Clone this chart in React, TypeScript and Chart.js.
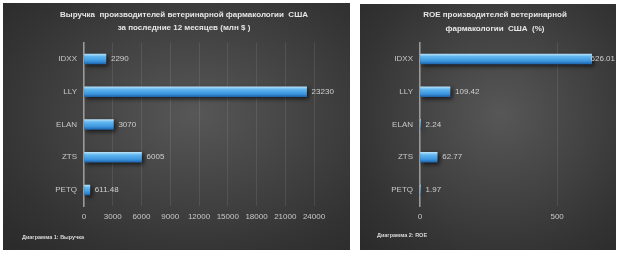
import React, { useEffect, useRef } from "react";
import { Chart, registerables } from "chart.js";

Chart.register(...registerables);

const categories = ["IDXX", "LLY", "ELAN", "ZTS", "PETQ"];
const revenueValues = [2290, 23230, 3070, 6005, 611.48];
const revenueLabels = ["2290", "23230", "3070", "6005", "611.48"];
const revenueTicks = [0, 3000, 6000, 9000, 12000, 15000, 18000, 21000, 24000];
const roeValues = [626.01, 109.42, 2.24, 62.77, 1.97];
const roeLabels = ["626.01", "109.42", "2.24", "62.77", "1.97"];
const roeTicks = [0, 500];

const revenueTitle = ["Выручка  производителей ветеринарной фармакологии  США", "за последние 12 месяцев (млн $ )"];
const roeTitle = ["ROE производителей ветеринарной", "фармакологии  США  (%)"];
const revenueFooter = "Диаграмма 1: Выручка";
const roeFooter = "Диаграмма 2: ROE";

const FONT = "'Liberation Sans', Arial, sans-serif";

type PanelCfg = {
  values: number[];
  labels: string[];
  ticks: number[];
  title: string[];
  footer: string;
  width: number;
  height: number;
  axisLeft: number;
  areaTop: number;
  areaBottom: number;
  rightPad: number;
  xMax: number;
  titleX: number;
  titleY: number[];
  footerX: number;
  footerY: number;
};

function barGradient(ctx: any) {
  const chart = ctx.chart;
  const ys = chart.scales?.y;
  const c = chart.ctx;
  if (!ys || !chart.chartArea) return "#4aa8ea";
  const yc = ys.getPixelForValue(ctx.dataIndex);
  const g = c.createLinearGradient(0, yc - 5, 0, yc + 5);
  g.addColorStop(0, "#b8e2fa");
  g.addColorStop(0.25, "#62b7ef");
  g.addColorStop(0.7, "#3d97df");
  g.addColorStop(1, "#1f66ad");
  return g;
}

function Panel({ cfg }: { cfg: PanelCfg }) {
  const ref = useRef<HTMLCanvasElement | null>(null);
  useEffect(() => {
    if (!ref.current) return;
    const deco = {
      id: "deco",
      beforeDatasetsDraw(chart: any) {
        const c = chart.ctx;
        c.save();
        c.shadowColor = "rgba(0,0,0,0.65)";
        c.shadowBlur = 4;
        c.shadowOffsetX = 2;
        c.shadowOffsetY = 2;
      },
      afterDatasetsDraw(chart: any) {
        const c = chart.ctx;
        c.restore();
        const meta = chart.getDatasetMeta(0);
        c.save();
        c.fillStyle = "#d0d0d0";
        c.font = "8px " + FONT;
        c.textBaseline = "middle";
        c.textAlign = "left";
        meta.data.forEach((el: any, i: number) => {
          const w = c.measureText(cfg.labels[i]).width;
          const x = Math.min(el.x + 5, chart.width - w - 1);
          c.fillText(cfg.labels[i], x, el.y);
        });
        c.restore();
      },
      afterDraw(chart: any) {
        const c = chart.ctx;
        c.save();
        c.fillStyle = "#e6e6e6";
        c.font = "bold 8px " + FONT;
        c.textAlign = "center";
        c.textBaseline = "middle";
        cfg.title.forEach((t, i) => c.fillText(t, cfg.titleX, cfg.titleY[i]));
        c.font = "bold 5.5px " + FONT;
        c.fillStyle = "#d8d8d8";
        c.textAlign = "left";
        c.fillText(cfg.footer, cfg.footerX, cfg.footerY);
        c.restore();
      },
    };
    const chart = new Chart(ref.current, {
      type: "bar",
      data: {
        labels: categories,
        datasets: [
          {
            data: cfg.values,
            backgroundColor: barGradient as any,
            borderWidth: 0,
            barThickness: 10,
          },
        ],
      },
      options: {
        indexAxis: "y",
        animation: false,
        responsive: false,
        maintainAspectRatio: false,
        layout: {
          padding: {
            top: cfg.areaTop,
            right: cfg.rightPad,
            left: 0,
            bottom: 0,
          },
        },
        plugins: {
          legend: { display: false },
          tooltip: { enabled: false },
          title: { display: false },
        },
        scales: {
          x: {
            min: 0,
            max: cfg.xMax,
            ticks: {
              color: "#c8c8c8",
              font: { size: 8, family: FONT },
              padding: 6,
              maxRotation: 0,
              autoSkip: false,
              callback: (v: any) => String(v),
            },
            afterBuildTicks: (axis: any) => {
              axis.ticks = cfg.ticks.map((v) => ({ value: v }));
            },
            afterFit: (scale: any) => {
              scale.height = cfg.height - cfg.areaBottom;
            },
            grid: {
              color: "rgba(255,255,255,0.09)",
              drawTicks: false,
            },
            border: { display: false },
          },
          y: {
            ticks: {
              color: "#c8c8c8",
              font: { size: 8, family: FONT },
              padding: 7,
            },
            afterFit: (scale: any) => {
              scale.width = cfg.axisLeft;
            },
            grid: { display: false, drawTicks: false },
            border: { display: true, color: "#9a9a9a", width: 1.5 },
          },
        },
      },
      plugins: [deco],
    });
    return () => chart.destroy();
  }, [cfg]);
  return <canvas ref={ref} width={cfg.width} height={cfg.height} style={{ display: "block" }} />;
}

const leftCfg: PanelCfg = {
  values: revenueValues,
  labels: revenueLabels,
  ticks: revenueTicks,
  title: revenueTitle,
  footer: revenueFooter,
  width: 347,
  height: 247,
  axisLeft: 81,
  areaTop: 39.6,
  areaBottom: 203.4,
  rightPad: 36,
  xMax: 24000,
  titleX: 181,
  titleY: [12, 25],
  footerX: 19,
  footerY: 234,
};

const rightCfg: PanelCfg = {
  values: roeValues,
  labels: roeLabels,
  ticks: roeTicks,
  title: roeTitle,
  footer: roeFooter,
  width: 256,
  height: 246,
  axisLeft: 60,
  areaTop: 38.6,
  areaBottom: 202.4,
  rightPad: 4,
  xMax: 700,
  titleX: 135,
  titleY: [11, 25],
  footerX: 17,
  footerY: 231,
};

const panelBg =
  "radial-gradient(ellipse at 55% 45%, #575757 0%, #444444 40%, #333333 75%, #2a2a2a 100%)";

export default function App() {
  useEffect(() => {
    document.body.style.margin = "0";
  }, []);
  return (
    <div style={{ position: "fixed", left: 0, top: 0, width: 620, height: 253, background: "#ffffff" }}>
      <div style={{ position: "absolute", left: 3, top: 3, width: 347, height: 247, background: panelBg }}>
        <Panel cfg={leftCfg} />
      </div>
      <div style={{ position: "absolute", left: 360, top: 4, width: 256, height: 246, background: panelBg }}>
        <Panel cfg={rightCfg} />
      </div>
    </div>
  );
}
